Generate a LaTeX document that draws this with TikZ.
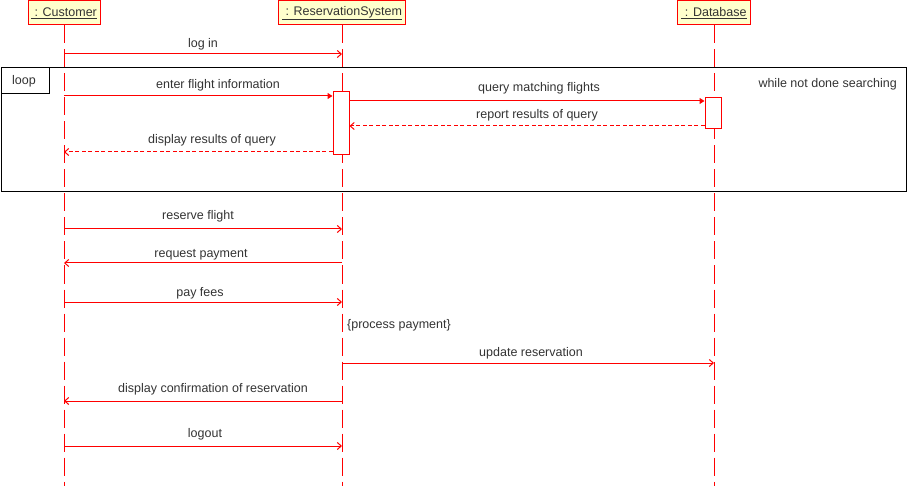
\documentclass[tikz,border=0pt]{standalone}
\usepackage{fontspec}
\setmainfont{Liberation Sans}
\usetikzlibrary{arrows.meta}
\definecolor{umlred}{RGB}{255,0,0}
\definecolor{headfill}{RGB}{255,255,204}
\definecolor{txt}{RGB}{51,51,51}
\begin{document}
\begin{tikzpicture}[x=1pt,y=-1pt, font=\fontsize{12.5}{15}\selectfont,
 head/.style={draw=umlred, fill=headfill, line width=1pt, minimum height=24pt, inner sep=0pt, text=txt, anchor=north},
 life/.style={draw=umlred, line width=1pt, dash pattern=on 18pt off 6pt},
 msg/.style={draw=umlred, line width=1pt, -{Straight Barb[length=4pt,width=7pt]}},
 call/.style={draw=umlred, line width=1pt, -{Triangle[length=5pt,width=6pt]}},
 reply/.style={msg, dash pattern=on 4pt off 2.5pt},
 lbl/.style={anchor=base, text=txt, inner sep=0pt},
 act/.style={draw=umlred, fill=white, line width=1pt, inner sep=0pt, anchor=north, minimum width=16pt},
 frame/.style={draw=black, line width=1pt},
]
\useasboundingbox (0,0) rectangle (907,486);
% heads
\node[head, minimum width=72pt] (cust) at (64,0.5) {\underline{~: Customer}};
\node[head, minimum width=127pt] (res) at (342,0.5) {\underline{~: ReservationSystem}};
\node[head, minimum width=73pt] (db) at (714,0.5) {\underline{~: Database}};
% lifelines
\coordinate (custend) at (64,486);
\coordinate (resend) at (342,486);
\coordinate (dbend) at (714,486);
\draw[life] (cust.south) -- (custend);
\draw[life] (res.south) -- (resend);
\draw[life] (db.south) -- (dbend);
% loop frame
\node[frame, anchor=north west, minimum width=905.5pt, minimum height=124pt, inner sep=0pt] (loopframe) at (0.5,67) {};
\node[frame, anchor=north west, minimum width=48.5pt, minimum height=26pt, inner sep=0pt] (looptag) at (0.5,67) {};
\node[lbl] (looplbl) at (24,84.5) {loop};
\node[lbl, anchor=base east] (guard) at (897,87.5) {while not done searching};
% activations
\node[act, minimum height=63pt] (a1) at (341,91) {};
\node[act, minimum height=31pt] (a2) at (713,97) {};
% messages
\draw[msg] (cust |- 0,54) -- (res |- 0,54);
\node[lbl] (l1) at (203,48) {log in};
\draw[call] (cust |- 0,96) -- (a1.west |- 0,96);
\node[lbl] (l2) at (218,89) {enter flight information};
\draw[call] (a1.east |- 0,101) -- (a2.west |- 0,101);
\node[lbl] (l3) at (539,91.5) {query matching flights};
\draw[reply] (a2.west |- 0,126) -- (a1.east |- 0,126);
\node[lbl] (l4) at (537,118.5) {report results of query};
\draw[reply] (a1.west |- 0,152) -- (cust |- 0,152);
\node[lbl] (l5) at (212,143.5) {display results of query};
\draw[msg] (cust |- 0,229) -- (res |- 0,229);
\node[lbl] (l6) at (198,220) {reserve flight};
\draw[msg] (res |- 0,263) -- (cust |- 0,263);
\node[lbl] (l7) at (201,257.5) {request payment};
\draw[msg] (cust |- 0,302) -- (res |- 0,302);
\node[lbl] (l8) at (200,296.5) {pay fees};
\node[lbl, anchor=base west] (l9) at (347,328.5) {\{process payment\}};
\draw[msg] (res |- 0,363) -- (db |- 0,363);
\node[lbl] (l10) at (531,356) {update reservation};
\draw[msg] (res |- 0,401) -- (cust |- 0,401);
\node[lbl] (l11) at (213,392.5) {display confirmation of reservation};
\draw[msg] (cust |- 0,446) -- (res |- 0,446);
\node[lbl] (l12) at (205,437.5) {logout};
\end{tikzpicture}
\end{document}
